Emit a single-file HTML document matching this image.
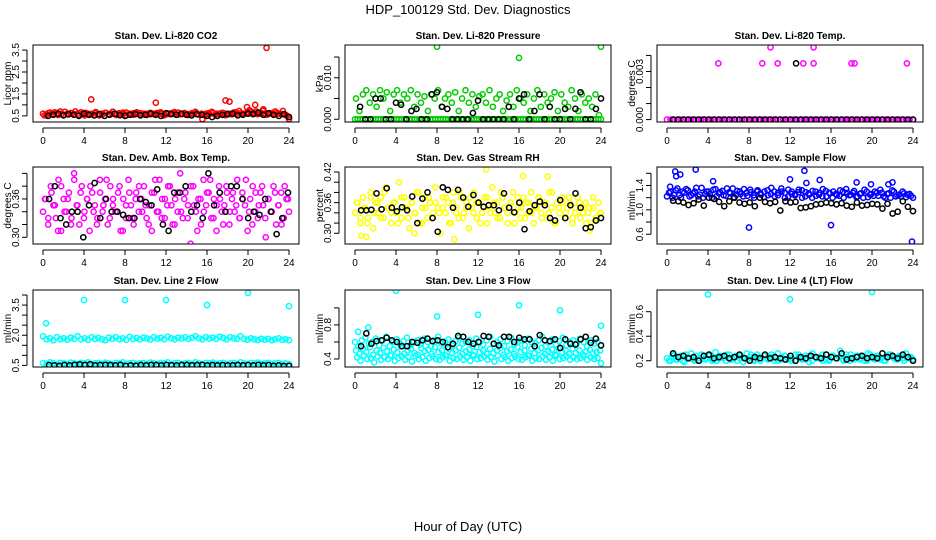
<!DOCTYPE html>
<html><head><meta charset="utf-8">
<style>
html,body{margin:0;padding:0;background:#fff;}
svg{display:block;font-family:"Liberation Sans",Arial,sans-serif;}
</style></head>
<body>
<svg id="chart" width="936" height="540" viewBox="0 0 936 540">
<text x="468" y="14" text-anchor="middle" font-size="13">HDP_100129  Std. Dev. Diagnostics</text>
<text x="468" y="531" text-anchor="middle" font-size="13">Hour of Day (UTC)</text>
</svg>
<script>
// ---- data ----
const hourTicks = [0,4,8,12,16,20,24];

const co2Red = [0.6,0.55,0.65,0.58,0.62,0.7,0.55,0.6,0.63,0.57,0.6,0.66,0.52,0.6,0.58,0.62,0.55,0.6,0.64,0.58,0.6,0.56,0.62,0.58,0.65,0.6,0.55,0.6,0.62,0.58,0.6,0.57,0.6,0.63,0.6,0.55,0.58,0.62,0.6,0.65,0.57,0.6,0.58,0.62,0.68,0.55,0.35,0.6,0.58,0.62,0.6,0.57,0.63,0.6,0.58,0.65,0.6,0.62,0.6,0.65,0.7,0.6,0.58,0.62,0.6,0.58,0.62,0.7,0.6,0.58,0.55,0.35];
const co2Red2 = [0.52,0.62,0.57,0.66,0.54,0.6,0.68,0.56,0.61,0.7,0.53,0.59,0.64,0.55,0.6,0.67,0.52,0.58,0.63,0.56,0.69,0.54,0.6,0.65,0.53,0.58,0.62,0.66,0.55,0.6,0.54,0.64,0.57,0.6,0.66,0.52,0.61,0.58,0.67,0.55,0.6,0.63,0.54,0.59,0.65,0.56,0.6,0.52,0.62,0.68,0.55,0.6,0.64,0.53,0.6,0.57,0.66,0.72,0.58,0.62,0.75,0.66,0.7,0.6,0.73,0.55,0.62,0.58,0.64,0.6,0.57,0.5];
const co2RedOutX = [4.7,11,17.8,18.2,19.9,20.7,21.5,21.8,23.4];
const co2RedOutY = [1.25,1.1,1.2,1.15,0.9,1.0,0.8,3.6,0.72];
const co2Black = [0.5,0.55,0.6,0.52,0.58,0.55,0.5,0.6,0.55,0.52,0.58,0.5,0.55,0.6,0.53,0.5,0.55,0.58,0.52,0.55,0.6,0.55,0.5,0.62,0.58,0.55,0.6,0.55,0.52,0.58,0.55,0.5,0.45,0.5,0.55,0.58,0.6,0.52,0.55,0.6,0.58,0.65,0.55,0.62,0.55,0.5,0.58,0.45];

const presGreen = [0.005,0.002,0.006,0.007,0.004,0.006,0.003,0.007,0.005,0.0065,0.002,0.006,0.007,0.004,0.006,0.005,0.007,0.003,0.006,0.004,0.0055,0.002,0.006,0.005,0.007,0.003,0.005,0.006,0.004,0.0065,0.002,0.005,0.007,0.004,0.006,0.003,0.0055,0.006,0.004,0.007,0.003,0.005,0.006,0.002,0.0045,0.006,0.003,0.007,0.005,0.004,0.006,0.002,0.005,0.007,0.003,0.006,0.004,0.005,0.0065,0.002,0.006,0.004,0.003,0.007,0.005,0.002,0.006,0.004,0.005,0.003,0.006,0.001];
const presGreenZero = [0,0,0,0,0,0,0,0,0,0,0,0,0,0,0,0,0,0,0,0,0,0,0,0,0,0,0,0,0,0,0,0,0,0,0,0,0,0,0,0,0,0,0,0,0,0,0,0,0,0,0,0,0,0,0,0,0,0,0,0,0,0,0,0,0,0,0,0,0,0,0,0,0,0,0,0,0,0,0,0,0,0,0,0,0,0,0,0,0,0,0,0,0,0,0,0];
const presGreenOutX = [8,16,24];
const presGreenOutY = [0.0175,0.0148,0.0175];
const presBlack = [0.003,0,0,0.005,0.005,0,0,0.004,0.0035,0,0.002,0.0025,0,0,0.006,0.0065,0.003,0.0025,0,0,0,0,0.0015,0.0045,0,0,0,0,0,0.003,0,0.005,0.006,0,0.002,0.006,0,0.003,0,0,0.0025,0,0.0025,0.0065,0,0,0.0025,0.005];

const tempMagZero = [0,0,0,0,0,0,0,0,0,0,0,0,0,0,0,0,0,0,0,0,0,0,0,0,0,0,0,0,0,0,0,0,0,0,0,0,0,0,0,0,0,0,0,0,0,0,0,0,0,0,0,0,0,0,0,0,0,0,0,0,0,0,0,0,0,0,0,0,0,0,0,0,0];
const tempMagOutX = [5,9.3,10.1,10.8,13.3,14.3,14.3,18,18.3,23.4];
const tempMagOutY = [0.0035,0.0035,0.0045,0.0035,0.0035,0.0035,0.0045,0.0035,0.0035,0.0035];
const tempBlack = [0,0,0,0,0,0,0,0,0,0,0,0,0,0,0,0,0,0,0,0,0,0,0,0,0,0,0,0,0,0,0,0,0,0,0,0,0,0,0,0,0,0,0,0,0,0,0,0];
const tempBlackOutX = [12.6];
const tempBlackOutY = [0.0035];

const ambMag = [0.34,0.36,0.32,0.38,0.35,0.33,0.39,0.31,0.36,0.34,0.37,0.33,0.4,0.35,0.32,0.38,0.34,0.36,0.31,0.37,0.35,0.33,0.39,0.34,0.36,0.32,0.38,0.35,0.34,0.37,0.31,0.36,0.33,0.39,0.35,0.32,0.37,0.34,0.36,0.38,0.33,0.35,0.31,0.37,0.34,0.39,0.36,0.33,0.35,0.38,0.32,0.36,0.34,0.4,0.33,0.37,0.35,0.29,0.38,0.34,0.36,0.32,0.39,0.35,0.37,0.33,0.36,0.31,0.38,0.34,0.35,0.37,0.32,0.36,0.34,0.39,0.33,0.37,0.35,0.31,0.36,0.38,0.34,0.33,0.37,0.35,0.3,0.36,0.34,0.38,0.32,0.35,0.37,0.33,0.36,0.34];
const ambMag2 = [0.36,0.33,0.37,0.35,0.31,0.38,0.34,0.36,0.32,0.39,0.35,0.37,0.33,0.36,0.38,0.34,0.32,0.37,0.35,0.39,0.33,0.36,0.34,0.38,0.31,0.35,0.37,0.33,0.36,0.38,0.34,0.35,0.32,0.37,0.39,0.34,0.33,0.36,0.38,0.35,0.32,0.37,0.34,0.36,0.33,0.38,0.35,0.31,0.36,0.34,0.37,0.39,0.33,0.35,0.36,0.32,0.38,0.34,0.37,0.35,0.33,0.36,0.39,0.34,0.32,0.37,0.35,0.38,0.33,0.36,0.34,0.37,0.35,0.32,0.38,0.36];
const ambBlack = [0.36,0.38,0.33,0.32,0.34,0.34,0.3,0.35,0.385,0.33,0.36,0.34,0.34,0.335,0.33,0.33,0.36,0.355,0.35,0.375,0.32,0.31,0.37,0.37,0.38,0.34,0.35,0.33,0.4,0.35,0.37,0.34,0.38,0.38,0.36,0.33,0.34,0.335,0.36,0.34,0.305,0.33,0.37];

const rhYel = [0.34,0.36,0.32,0.37,0.35,0.33,0.38,0.31,0.36,0.34,0.37,0.33,0.39,0.35,0.32,0.36,0.34,0.4,0.33,0.37,0.35,0.31,0.36,0.34,0.38,0.32,0.35,0.37,0.33,0.36,0.34,0.39,0.35,0.3,0.37,0.34,0.36,0.32,0.38,0.35,0.33,0.37,0.34,0.36,0.31,0.35,0.38,0.33,0.36,0.34,0.37,0.32,0.35,0.39,0.34,0.36,0.33,0.37,0.35,0.32,0.36,0.38,0.34,0.35,0.33,0.37,0.36,0.34,0.38,0.32,0.35,0.37,0.34,0.36,0.33,0.38,0.35,0.32,0.36,0.34,0.37,0.33,0.35,0.36,0.32,0.34,0.37,0.33,0.35,0.36,0.34,0.32,0.35,0.33,0.36,0.34];
const rhYel2 = [0.36,0.33,0.35,0.32,0.37,0.34,0.36,0.33,0.38,0.35,0.34,0.36,0.32,0.37,0.35,0.33,0.36,0.34,0.38,0.32,0.35,0.37,0.33,0.36,0.34,0.35,0.37,0.32,0.36,0.34,0.38,0.33,0.35,0.37,0.34,0.36,0.32,0.35,0.37,0.34,0.36,0.33,0.38,0.35,0.34,0.36,0.32,0.37,0.35,0.33,0.36,0.34,0.35,0.37,0.33,0.36,0.34,0.38,0.32,0.35,0.36,0.34,0.37,0.33,0.35,0.36,0.34,0.32,0.35,0.37,0.33,0.34];
const rhYelOutX = [0.6,1.1,12.8,9.7,16.4,18.8,5.8,22.9];
const rhYelOutY = [0.295,0.293,0.425,0.288,0.412,0.411,0.3,0.305];
const rhBlack = [0.345,0.345,0.346,0.378,0.347,0.388,0.35,0.343,0.351,0.345,0.372,0.32,0.368,0.38,0.33,0.303,0.39,0.385,0.35,0.385,0.37,0.352,0.375,0.36,0.352,0.355,0.355,0.345,0.378,0.35,0.341,0.36,0.308,0.343,0.355,0.362,0.355,0.33,0.325,0.365,0.33,0.355,0.378,0.35,0.31,0.312,0.325,0.33];

const sfBlue = [1.22,1.3,1.25,1.35,1.2,1.28,1.32,1.24,1.3,1.22,1.36,1.26,1.3,1.2,1.34,1.27,1.31,1.23,1.29,1.35,1.25,1.3,1.22,1.28,1.33,1.24,1.3,1.27,1.21,1.32,1.26,1.3,1.24,1.35,1.28,1.22,1.3,1.26,1.33,1.2,1.29,1.25,1.31,1.23,1.28,1.34,1.22,1.27,1.3,1.24,1.32,1.2,1.28,1.25,1.31,1.22,1.27,1.33,1.21,1.26,1.3,1.23,1.28,1.2,1.27,1.32,1.22,1.25,1.3,1.21,1.26,1.2];
const sfBlue2 = [1.28,1.2,1.32,1.24,1.3,1.34,1.22,1.27,1.36,1.25,1.2,1.3,1.26,1.33,1.22,1.29,1.24,1.35,1.27,1.21,1.31,1.26,1.34,1.23,1.29,1.2,1.32,1.25,1.3,1.24,1.36,1.22,1.28,1.3,1.2,1.33,1.26,1.24,1.29,1.32,1.22,1.27,1.2,1.3,1.25,1.22,1.31,1.28,1.2,1.26,1.23,1.3,1.34,1.24,1.28,1.21,1.26,1.2,1.3,1.25,1.23,1.28,1.33,1.22,1.26,1.2,1.3,1.24,1.22,1.27,1.25,1.23];
const sfBlueOutX = [0.3,0.8,0.9,1.3,2.8,4.5,8.0,12.0,13.4,13.6,14.9,16.0,18.5,19.9,21.6,22.0,23.9];
const sfBlueOutY = [1.38,1.63,1.55,1.58,1.66,1.47,0.71,1.5,1.64,1.44,1.49,0.75,1.45,1.42,1.42,1.45,0.48];
const sfBlack = [1.15,1.14,1.12,1.08,1.11,1.17,1.07,1.2,1.18,1.13,1.06,1.14,1.2,1.12,1.1,1.12,1.06,1.2,1.13,1.11,1.13,0.99,1.14,1.12,1.13,1.03,1.04,1.06,1.09,1.1,1.12,1.11,1.09,1.11,1.07,1.05,1.12,1.07,1.08,1.1,1.09,1.02,1.1,0.94,0.97,1.14,1.05,0.98];

const l2CyanHi = [1.95,1.8,1.85,1.75,1.9,1.8,1.85,1.78,1.88,1.82,1.95,1.8,1.85,1.78,1.9,1.82,1.86,1.8,1.75,1.88,1.83,1.9,1.8,1.85,1.78,1.92,1.82,1.86,1.8,1.88,1.84,1.79,1.9,1.83,1.87,1.8,1.92,1.85,1.8,1.88,1.84,1.9,1.82,1.87,1.95,1.85,1.8,1.9,1.84,1.88,1.82,1.92,1.86,1.8,1.9,1.85,1.83,1.95,1.82,1.78,1.85,1.8,1.76,1.83,1.78,1.82,1.75,1.8,1.85,1.77,1.8,1.75];
const l2CyanLo = [0.62,0.58,0.65,0.6,0.55,0.63,0.6,0.57,0.64,0.6,0.58,0.62,0.6,0.65,0.57,0.6,0.62,0.58,0.64,0.6,0.56,0.62,0.6,0.65,0.58,0.6,0.63,0.57,0.6,0.62,0.58,0.64,0.6,0.57,0.62,0.6,0.65,0.58,0.6,0.63,0.57,0.6,0.62,0.58,0.65,0.6,0.57,0.62,0.6,0.64,0.58,0.6,0.63,0.57,0.6,0.62,0.58,0.65,0.6,0.57,0.62,0.6,0.64,0.58,0.6,0.63,0.57,0.6,0.62,0.58,0.6,0.57];
const l2CyanOutX = [0.3,4,8,12,16,20,24];
const l2CyanOutY = [2.6,3.75,3.75,3.75,3.5,4.1,3.45];
const l2Black = [0.52,0.5,0.48,0.52,0.5,0.53,0.55,0.52,0.56,0.5,0.52,0.53,0.52,0.5,0.53,0.47,0.5,0.48,0.52,0.5,0.53,0.52,0.5,0.53,0.51,0.5,0.52,0.53,0.5,0.52,0.53,0.5,0.52,0.5,0.52,0.5,0.51,0.52,0.5,0.52,0.5,0.53,0.5,0.52,0.48,0.5,0.47,0.48];

const l3CyanHi = [0.6,0.55,0.62,0.65,0.58,0.6,0.64,0.56,0.62,0.66,0.55,0.6,0.63,0.58,0.61,0.65,0.56,0.6,0.62,0.57,0.64,0.6,0.55,0.62,0.66,0.58,0.6,0.63,0.56,0.61,0.65,0.58,0.6,0.62,0.55,0.64,0.6,0.57,0.62,0.66,0.58,0.6,0.63,0.55,0.61,0.65,0.57,0.6,0.62,0.56,0.64,0.6,0.58,0.62,0.66,0.55,0.6,0.63,0.57,0.61,0.65,0.56,0.6,0.62,0.58,0.64,0.6,0.55,0.62,0.58,0.6,0.56];
const l3CyanMid = [0.5,0.46,0.52,0.48,0.54,0.45,0.5,0.47,0.53,0.49,0.44,0.51,0.48,0.55,0.46,0.5,0.52,0.47,0.45,0.53,0.49,0.51,0.46,0.54,0.48,0.5,0.44,0.52,0.47,0.5,0.53,0.46,0.49,0.51,0.45,0.54,0.48,0.5,0.46,0.52,0.47,0.5,0.53,0.45,0.49,0.51,0.46,0.54,0.48,0.5,0.44,0.52,0.47,0.5,0.53,0.46,0.49,0.51,0.45,0.52,0.48,0.5,0.46,0.52,0.47,0.5,0.45,0.49,0.51,0.46,0.48,0.5];
const l3CyanLo = [0.42,0.38,0.44,0.4,0.41,0.36,0.43,0.39,0.42,0.4,0.44,0.38,0.41,0.43,0.39,0.42,0.37,0.44,0.4,0.42,0.38,0.41,0.43,0.4,0.39,0.42,0.44,0.38,0.41,0.4,0.43,0.39,0.42,0.38,0.44,0.4,0.41,0.43,0.39,0.42,0.37,0.44,0.4,0.42,0.38,0.41,0.43,0.4,0.39,0.42,0.44,0.38,0.41,0.4,0.43,0.39,0.42,0.38,0.44,0.4,0.41,0.43,0.39,0.42,0.4,0.41,0.43,0.39,0.42,0.4,0.41,0.35];
const l3CyanOutX = [0.3,1.3,4,8,12,16,20,24];
const l3CyanOutY = [0.72,0.77,1.2,0.9,0.92,1.03,0.97,0.79];
const l3Black = [0.55,0.7,0.58,0.61,0.62,0.65,0.62,0.6,0.55,0.55,0.6,0.59,0.62,0.64,0.61,0.62,0.6,0.54,0.58,0.67,0.66,0.6,0.58,0.6,0.67,0.66,0.58,0.56,0.66,0.66,0.6,0.65,0.63,0.63,0.55,0.68,0.62,0.61,0.63,0.53,0.63,0.58,0.57,0.63,0.66,0.59,0.64,0.56];

const l4Cyan = [0.22,0.2,0.25,0.21,0.24,0.19,0.23,0.26,0.2,0.22,0.25,0.21,0.24,0.2,0.27,0.22,0.23,0.2,0.25,0.21,0.24,0.22,0.19,0.26,0.23,0.21,0.25,0.2,0.24,0.22,0.23,0.2,0.26,0.21,0.24,0.22,0.2,0.25,0.23,0.21,0.24,0.19,0.26,0.22,0.23,0.2,0.25,0.21,0.24,0.22,0.28,0.2,0.23,0.25,0.21,0.24,0.22,0.2,0.26,0.23,0.21,0.24,0.22,0.2,0.25,0.23,0.21,0.24,0.22,0.26,0.23,0.21];
const l4Cyan2 = [0.2,0.24,0.21,0.23,0.2,0.25,0.22,0.21,0.24,0.2,0.23,0.22,0.25,0.21,0.2,0.24,0.22,0.25,0.21,0.23,0.2,0.24,0.22,0.21,0.25,0.2,0.23,0.22,0.24,0.21,0.25,0.22,0.2,0.23,0.24,0.21,0.22,0.2,0.25,0.22,0.21,0.24,0.2,0.23,0.22,0.25,0.21,0.2,0.24,0.22,0.23,0.21,0.25,0.2,0.22,0.24,0.21,0.23,0.2,0.25,0.22,0.24,0.21,0.2,0.23,0.25,0.22,0.21,0.24,0.2,0.22,0.23];
const l4CyanOutX = [4,12,20];
const l4CyanOutY = [0.74,0.7,0.76];
const l4Black = [0.26,0.23,0.24,0.22,0.23,0.2,0.24,0.25,0.22,0.23,0.24,0.22,0.23,0.25,0.22,0.2,0.23,0.22,0.25,0.22,0.23,0.22,0.21,0.24,0.2,0.23,0.22,0.24,0.23,0.22,0.25,0.23,0.22,0.26,0.21,0.22,0.23,0.24,0.22,0.23,0.22,0.26,0.23,0.24,0.22,0.25,0.23,0.2];

// ---- rendering ----
const NS = 'http://www.w3.org/2000/svg';
const svg = document.getElementById('chart');
const colLeft = [33, 345, 657];
const rowTop = [45, 167, 290];
const BOXW = 266, BOXH = 77;

function mk(tag, attrs, parent) {
  const e = document.createElementNS(NS, tag);
  for (const k in attrs) e.setAttribute(k, attrs[k]);
  (parent || svg).appendChild(e);
  return e;
}

function panel(name, col, row, title, ylab, ymin, ymax, yticks, ylabels, series) {
  const L = colLeft[col], T = rowTop[row];
  const g = mk('g', {});
  
  
  const xs = h => L + 10 + h * (BOXW - 20) / 24;
  const ys = v => T + BOXH - (v - ymin) / (ymax - ymin) * BOXH;

  const t = mk('text', {x: L + BOXW / 2, y: T - 6, 'text-anchor': 'middle', 'font-size': 10, 'font-weight': 'bold'}, g);
  t.textContent = title;
  
  

  const yl = mk('text', {x: 0, y: 0, 'text-anchor': 'middle', 'font-size': 10, transform: `translate(${L - 22},${T + BOXH / 2}) rotate(-90)`}, g);
  yl.textContent = ylab;
  
  

  const xa = mk('g', {}, g);
  
  
  const yb = T + BOXH;
  mk('line', {x1: xs(0), x2: xs(24), y1: yb + 6, y2: yb + 6, stroke: '#000', 'stroke-width': 1}, xa);
  hourTicks.forEach(h => {
    mk('line', {x1: xs(h), x2: xs(h), y1: yb + 6, y2: yb + 11, stroke: '#000', 'stroke-width': 1}, xa);
    const tl = mk('text', {x: xs(h), y: yb + 22, 'text-anchor': 'middle', 'font-size': 10}, xa);
    tl.textContent = h;
    
    
  });

  const ya = mk('g', {}, g);
  
  
  const xl = L - 6;
  mk('line', {x1: xl, x2: xl, y1: ys(yticks[0]), y2: ys(yticks[yticks.length - 1]), stroke: '#000', 'stroke-width': 1}, ya);
  yticks.forEach(v => {
    mk('line', {x1: xl - 5, x2: xl, y1: ys(v), y2: ys(v), stroke: '#000', 'stroke-width': 1}, ya);
  });
  ylabels.forEach(lab => {
    const v = parseFloat(lab);
    const tl = mk('text', {x: 0, y: 0, 'text-anchor': 'middle', 'font-size': 10, transform: `translate(${xl - 8},${ys(v)}) rotate(-90)`}, ya);
    tl.textContent = lab;
    
    
  });

  const cid = 'clip-' + name;
  const cp = mk('clipPath', {id: cid}, g);
  mk('rect', {x: L, y: T, width: BOXW, height: BOXH}, cp);
  const pts = mk('g', {'clip-path': `url(#${cid})`}, g);
  series.forEach(s => {
    const sg = mk('g', {}, pts);
    
    
    const n = s.vals.length;
    s.vals.forEach((v, i) => {
      const h = s.xs ? s.xs[i] : s.x0 + i * (s.x1 - s.x0) / Math.max(1, n - 1);
      const c = mk('circle', {cx: xs(h).toFixed(1), cy: ys(v).toFixed(1), r: 2.6, fill: 'none', stroke: s.color, 'stroke-width': 1.5}, sg);
      
      
    });
  });

  const box = mk('rect', {x: L, y: T, width: BOXW, height: BOXH, fill: 'none', stroke: '#000', 'stroke-width': 1}, g);
  
  
}

const RED = '#ff0000', GRN = '#00cc00', MAG = '#ff00ff', YEL = '#ffff00', BLU = '#0000ff', CYN = '#00ffff', BLK = '#000000';

panel('co2', 0, 0, 'Stan. Dev. Li-820 CO2', 'Licor ppm', 0.22, 3.73,
  [0.5,1.0,1.5,2.0,2.5,3.0,3.5], ['0.5','1.5','2.5','3.5'], [
  {name: 'red-series', vals: co2Red, x0: 0, x1: 24, color: RED},
  {name: 'red-series-2', vals: co2Red2, x0: 0.15, x1: 23.8, color: RED},
  {name: 'red-outliers', vals: co2RedOutY, xs: co2RedOutX, color: RED},
  {name: 'black-series', vals: co2Black, x0: 0.5, x1: 24, color: BLK}]);

panel('pressure', 1, 0, 'Stan. Dev. Li-820 Pressure', 'kPa', -0.00066, 0.0179,
  [0,0.005,0.010,0.015], ['0.000','0.010'], [
  {name: 'green-zero', vals: presGreenZero, x0: 0, x1: 24, color: GRN},
  {name: 'green-series', vals: presGreen, x0: 0.1, x1: 23.8, color: GRN},
  {name: 'green-outliers', vals: presGreenOutY, xs: presGreenOutX, color: GRN},
  {name: 'black-series', vals: presBlack, x0: 0.5, x1: 24, color: BLK}]);

panel('temp', 2, 0, 'Stan. Dev. Li-820 Temp.', 'degrees C', -0.00015, 0.00465,
  [0,0.001,0.002,0.003,0.004], ['0.000','0.003'], [
  {name: 'magenta-zero', vals: tempMagZero, x0: 0, x1: 24, color: MAG},
  {name: 'black-series', vals: tempBlack, x0: 0.6, x1: 24, color: BLK},
  {name: 'magenta-outliers', vals: tempMagOutY, xs: tempMagOutX, color: MAG},
  {name: 'black-outliers', vals: tempBlackOutY, xs: tempBlackOutX, color: BLK}]);

panel('amb-temp', 0, 1, 'Stan. Dev. Amb. Box Temp.', 'degrees C', 0.2895, 0.41,
  [0.30,0.32,0.34,0.36,0.38,0.40], ['0.30','0.36'], [
  {name: 'magenta-series', vals: ambMag, x0: 0, x1: 24, color: MAG},
  {name: 'magenta-series-2', vals: ambMag2, x0: 0.2, x1: 23.9, color: MAG},
  {name: 'black-series', vals: ambBlack, x0: 0.6, x1: 23.9, color: BLK}]);

panel('gas-rh', 1, 1, 'Stan. Dev. Gas Stream RH', 'percent', 0.279, 0.4298,
  [0.30,0.32,0.34,0.36,0.38,0.40,0.42], ['0.30','0.36','0.42'], [
  {name: 'yellow-series', vals: rhYel, x0: 0, x1: 24, color: YEL},
  {name: 'yellow-series-2', vals: rhYel2, x0: 0.2, x1: 23.9, color: YEL},
  {name: 'yellow-outliers', vals: rhYelOutY, xs: rhYelOutX, color: YEL},
  {name: 'black-series', vals: rhBlack, x0: 0.6, x1: 24, color: BLK}]);

panel('sample-flow', 2, 1, 'Stan. Dev. Sample Flow', 'ml/min', 0.44, 1.703,
  [0.6,0.8,1.0,1.2,1.4,1.6], ['0.6','1.0','1.4'], [
  {name: 'blue-series', vals: sfBlue, x0: 0, x1: 24, color: BLU},
  {name: 'blue-series-2', vals: sfBlue2, x0: 0.2, x1: 23.8, color: BLU},
  {name: 'blue-outliers', vals: sfBlueOutY, xs: sfBlueOutX, color: BLU},
  {name: 'black-series', vals: sfBlack, x0: 0.6, x1: 24, color: BLK}]);

panel('line2-flow', 0, 2, 'Stan. Dev. Line 2 Flow', 'ml/min', 0.42, 4.25,
  [0.5,1.0,1.5,2.0,2.5,3.0,3.5,4.0], ['0.5','2.0','3.5'], [
  {name: 'cyan-upper', vals: l2CyanHi, x0: 0, x1: 24, color: CYN},
  {name: 'cyan-lower', vals: l2CyanLo, x0: 0, x1: 24, color: CYN},
  {name: 'cyan-outliers', vals: l2CyanOutY, xs: l2CyanOutX, color: CYN},
  {name: 'black-series', vals: l2Black, x0: 0.6, x1: 24, color: BLK}]);

panel('line3-flow', 1, 2, 'Stan. Dev. Line 3 Flow', 'ml/min', 0.306, 1.21,
  [0.4,0.6,0.8,1.0], ['0.4','0.8'], [
  {name: 'cyan-upper', vals: l3CyanHi, x0: 0, x1: 24, color: CYN},
  {name: 'cyan-middle', vals: l3CyanMid, x0: 0.1, x1: 23.9, color: CYN},
  {name: 'cyan-lower', vals: l3CyanLo, x0: 0.2, x1: 24, color: CYN},
  {name: 'cyan-outliers', vals: l3CyanOutY, xs: l3CyanOutX, color: CYN},
  {name: 'black-series', vals: l3Black, x0: 0.6, x1: 24, color: BLK}]);

panel('line4-flow', 2, 2, 'Stan. Dev. Line 4 (LT) Flow', 'ml/min', 0.149, 0.777,
  [0.2,0.4,0.6], ['0.2','0.4','0.6'], [
  {name: 'cyan-series', vals: l4Cyan, x0: 0, x1: 24, color: CYN},
  {name: 'cyan-series-2', vals: l4Cyan2, x0: 0.2, x1: 23.8, color: CYN},
  {name: 'cyan-outliers', vals: l4CyanOutY, xs: l4CyanOutX, color: CYN},
  {name: 'black-series', vals: l4Black, x0: 0.6, x1: 24, color: BLK}]);
</script>
</body></html>
